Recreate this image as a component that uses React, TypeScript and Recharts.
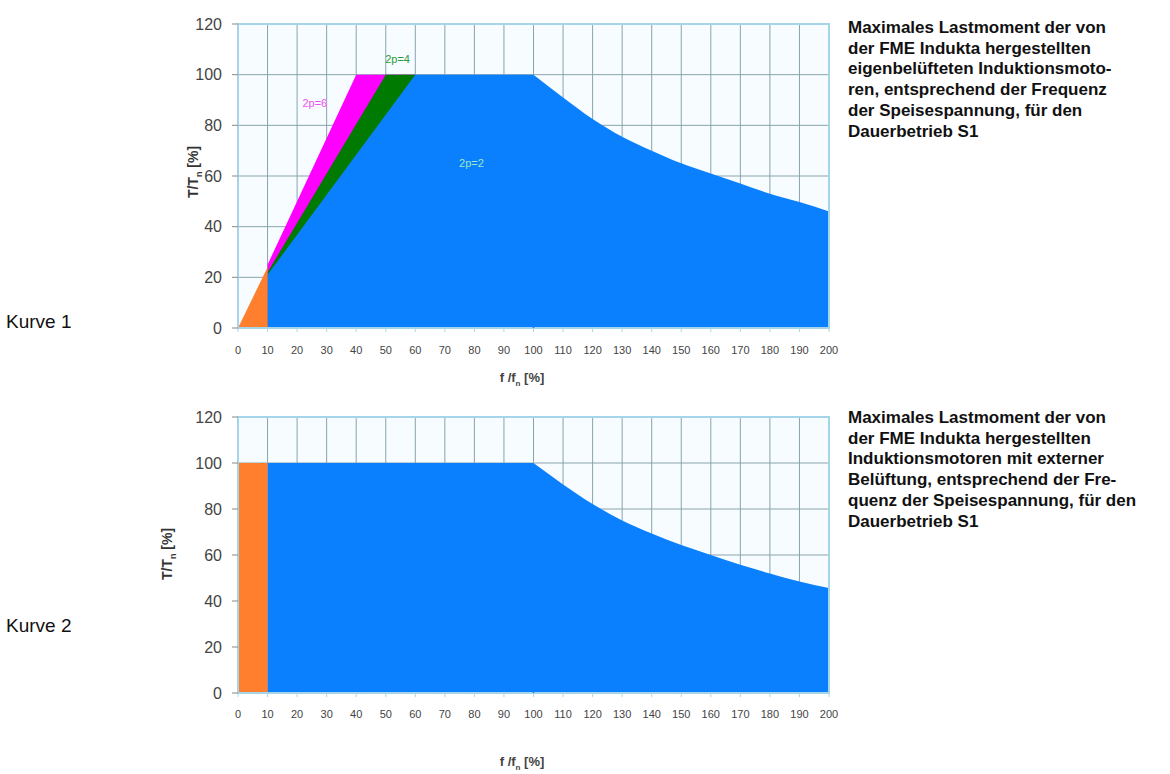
import React from 'react';
import { ComposedChart, Area, XAxis, YAxis, CartesianGrid, ReferenceArea, ReferenceDot, ReferenceLine } from 'recharts';

// f/fn [%] axis and T/Tn [%] axis
const freqTicks = [0, 10, 20, 30, 40, 50, 60, 70, 80, 90, 100, 110, 120, 130, 140, 150, 160, 170, 180, 190, 200];
const torqueTicks = [0, 20, 40, 60, 80, 100, 120];

// Kurve 1: eigenbelüftete Motoren
const k1Start = [{ f: 0, t: 0 }, { f: 10, t: 24 }];
const k1Pole6 = [{ f: 10, t: 25 }, { f: 40, t: 100 }, { f: 60, t: 100 }];
const k1Pole4 = [{ f: 10, t: 22 }, { f: 50, t: 100 }, { f: 60, t: 100 }];
const k1Pole2 = [{ f: 10, t: 21 }, { f: 60, t: 100 }, { f: 100, t: 100 }];
const k1Pole2Tail = [
    { f: 100, t: 100 }, { f: 110, t: 91 }, { f: 120, t: 82.5 }, { f: 130, t: 75.5 }, { f: 140, t: 70 },
    { f: 150, t: 65 }, { f: 160, t: 61 }, { f: 170, t: 57 }, { f: 180, t: 53 }, { f: 190, t: 49.7 },
    { f: 200, t: 46 },
];

// Kurve 2: externe Belüftung
const k2Start = [{ f: 0, t: 100 }, { f: 10, t: 100 }];
const k2Main = [{ f: 10, t: 100 }, { f: 100, t: 100 }];
const k2Tail = [
    { f: 100, t: 100 }, { f: 110, t: 90.7 }, { f: 120, t: 82.2 }, { f: 130, t: 75 }, { f: 140, t: 69.3 },
    { f: 150, t: 64.3 }, { f: 160, t: 60 }, { f: 170, t: 55.8 }, { f: 180, t: 52 }, { f: 190, t: 48.5 },
    { f: 200, t: 45.6 },
];

// nominal point where constant torque turns into field weakening
const cornerFreq = 100;
const cornerTorque = 100;

const poleLabels = [
    { text: '2p=6', f: 26, t: 89, color: '#f050f0' },
    { text: '2p=4', f: 54, t: 106, color: '#2a9a3a' },
    { text: '2p=2', f: 79, t: 65, color: '#9fe6c8' },
];

const BLUE = '#0a80ff';
const ORANGE = '#ff7f2f';
const MAGENTA = '#ff00ff';
const GREEN = '#007a00';

const curve1 = [
    { data: k1Pole6, color: MAGENTA, curve: 'linear' },
    { data: k1Pole4, color: GREEN, curve: 'linear' },
    { data: k1Pole2, color: BLUE, curve: 'linear' },
    { data: k1Pole2Tail, color: BLUE, curve: 'monotone' },
    { data: k1Start, color: ORANGE, curve: 'linear' },
];
const curve2 = [
    { data: k2Main, color: BLUE, curve: 'linear' },
    { data: k2Tail, color: BLUE, curve: 'monotone' },
    { data: k2Start, color: ORANGE, curve: 'linear' },
];

const text1 = [
    'Maximales Lastmoment der von',
    'der FME Indukta hergestellten',
    'eigenbelüfteten Induktionsmoto-',
    'ren, entsprechend der Frequenz',
    'der Speisespannung, für den',
    'Dauerbetrieb S1',
];
const text2 = [
    'Maximales Lastmoment der von',
    'der FME Indukta hergestellten',
    'Induktionsmotoren mit externer',
    'Belüftung, entsprechend der Fre-',
    'quenz der Speisespannung, für den',
    'Dauerbetrieb S1',
];

const FONT = '"Liberation Sans", Arial, Helvetica, sans-serif';

interface ChartProps {
    series: { data: { f: number; t: number }[]; color: string; curve: string }[];
    top: number;
    height: number;
    marginTop: number;
    marginBottom: number;
    xTickMargin: number;
    labels?: typeof poleLabels;
}

const MotorChart: React.FC<ChartProps> = ({ series, top, height, marginTop, marginBottom, xTickMargin, labels = [] }) => (
    <div style={{ position: 'absolute', left: 0, top }}>
        <ComposedChart width={850} height={height} margin={{ top: marginTop, right: 21, left: 178, bottom: marginBottom }}>
            <CartesianGrid stroke="#8aa4ac" fill="#f6fcff" />
            <XAxis
                type="number"
                dataKey="f"
                domain={[0, 200]}
                ticks={freqTicks}
                interval={0}
                allowDataOverflow
                axisLine={false}
                tickLine={{ stroke: '#a8d8e8' }}
                tickSize={4}
                tickMargin={xTickMargin}
                height={30}
                tick={{ fontSize: 11, fill: '#444', fontFamily: FONT }}
            />
            <YAxis
                type="number"
                domain={[0, 120]}
                ticks={torqueTicks}
                interval={0}
                axisLine={false}
                tickLine={{ stroke: '#888' }}
                tickSize={6}
                tickMargin={10}
                width={60}
                tick={{ fontSize: 16, fill: '#444', fontFamily: FONT }}
            />
            {series.map((s, i) => (
                <Area
                    key={i}
                    type={s.curve as any}
                    data={s.data}
                    dataKey="t"
                    stroke="none"
                    fill={s.color}
                    fillOpacity={1}
                    dot={false}
                    activeDot={false}
                    isAnimationActive={false}
                />
            ))}
            {/* hides the anti-aliasing seam where the flat part meets the falling part */}
            <ReferenceLine segment={[{ x: cornerFreq, y: 0 }, { x: cornerFreq, y: cornerTorque - 1 }]} stroke={BLUE} strokeWidth={1.5} />
            <ReferenceArea x1={0} x2={200} y1={0} y2={120} fill="none" stroke="#a6d4e8" strokeWidth={2} />
            {labels.map((l, i) => (
                <ReferenceDot
                    key={i}
                    x={l.f}
                    y={l.t}
                    r={0}
                    shape={(p: any) => (
                        <text x={p.cx} y={p.cy} textAnchor="middle" dominantBaseline="central" fill={l.color} fontSize={11} fontFamily={FONT}>
                            {l.text}
                        </text>
                    )}
                />
            ))}
        </ComposedChart>
    </div>
);

const yTitle = (x: number, y: number) => (
    <div
        style={{
            position: 'absolute', left: x - 60, top: y - 10, width: 120, height: 20, lineHeight: '20px',
            textAlign: 'center', transform: 'rotate(-90deg)', fontSize: 14, fontWeight: 'bold', color: '#333', whiteSpace: 'nowrap',
        }}
    >
        T/T<sub style={{ fontSize: 9 }}>n</sub> [%]
    </div>
);

const xTitle = (x: number, y: number) => (
    <div
        style={{
            position: 'absolute', left: x - 60, top: y - 10, width: 120, height: 20, lineHeight: '20px',
            textAlign: 'center', fontSize: 13, fontWeight: 'bold', color: '#444', whiteSpace: 'nowrap',
        }}
    >
        f /f<sub style={{ fontSize: 8 }}>n</sub> [%]
    </div>
);

const textBlock = (lines: string[], top: number) => (
    <div style={{ position: 'absolute', left: 848, top, fontSize: 17, fontWeight: 'bold', lineHeight: '20.7px', color: '#111' }}>
        {lines.map((l, i) => (
            <div key={i} style={{ whiteSpace: 'nowrap' }}>{l}</div>
        ))}
    </div>
);

export default function App() {
    return (
        <div style={{ position: 'absolute', left: 0, top: 0, width: 1170, height: 774, background: '#fff', fontFamily: FONT, overflow: 'hidden' }}>
            <MotorChart series={curve1} top={0} height={395} marginTop={24} marginBottom={37} xTickMargin={14} labels={poleLabels} />
            <MotorChart series={curve2} top={390} height={384} marginTop={27} marginBottom={51} xTickMargin={13} />
            {yTitle(193, 172)}
            {yTitle(167, 554)}
            {xTitle(522, 378)}
            {xTitle(522, 762)}
            {textBlock(text1, 18)}
            {textBlock(text2, 408)}
            <div style={{ position: 'absolute', left: 6, top: 311, fontSize: 19, color: '#111' }}>Kurve 1</div>
            <div style={{ position: 'absolute', left: 6, top: 615, fontSize: 19, color: '#111' }}>Kurve 2</div>
        </div>
    );
}
